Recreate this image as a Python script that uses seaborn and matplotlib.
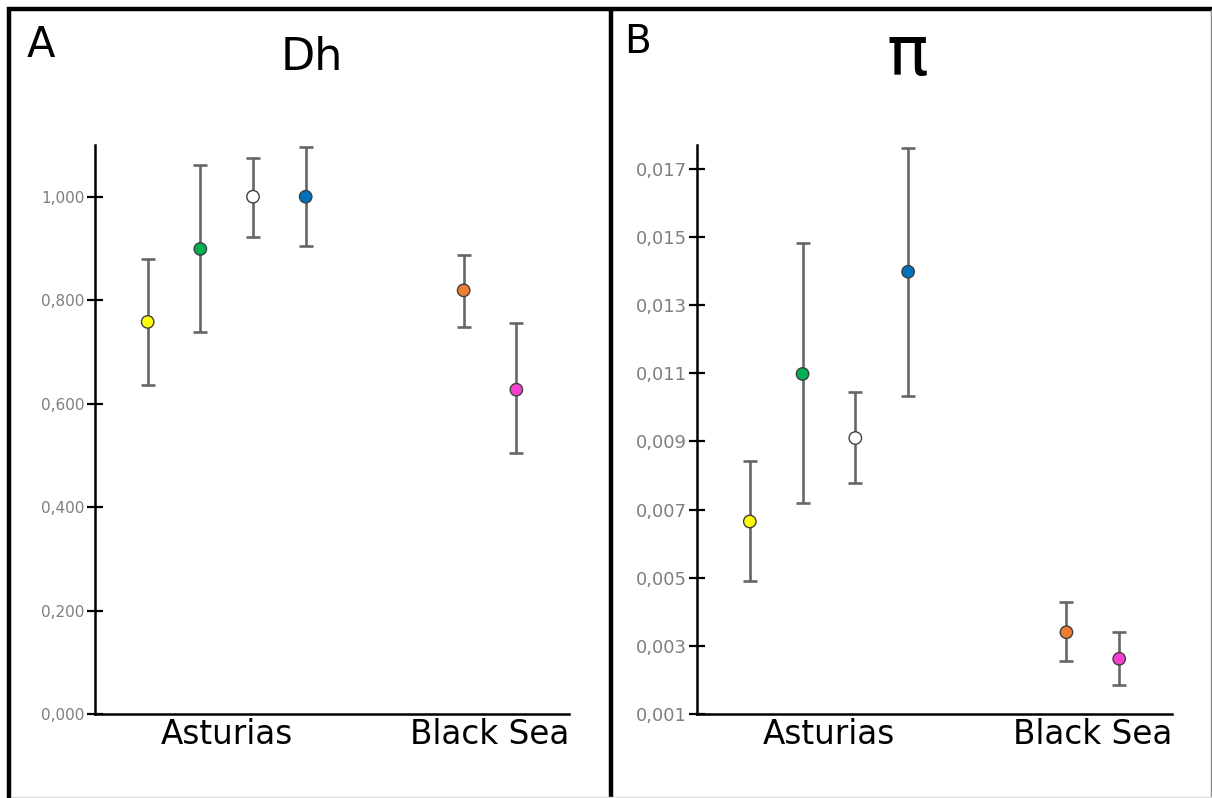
import numpy as np
import pandas as pd
import matplotlib
matplotlib.use("Agg")
import matplotlib.pyplot as plt
from matplotlib.lines import Line2D
from matplotlib.ticker import FuncFormatter
import seaborn as sns

# Positions of the six populations along the axis (Excel-style gap between regions)
groups = ["Ast1", "Ast2", "Ast3", "Ast4", "BS1", "BS2"]
xpos = [1, 2, 3, 4, 7, 8]
colors = ["#FFFF00", "#00B050", "#FFFFFF", "#0070C0", "#ED7D31", "#F53FCF"]
regions = ["Asturias", "Black Sea"]
region_pos = [2.5, 7.5]

# Panel A: haplotype diversity (Dh)
dh_mean = [0.758, 0.899, 1.000, 1.000, 0.819, 0.627]
dh_low = [0.636, 0.739, 0.923, 0.905, 0.749, 0.504]
dh_high = [0.880, 1.062, 1.075, 1.097, 0.888, 0.755]

# Panel B: nucleotide diversity (pi)
pi_mean = [0.00665, 0.01098, 0.00910, 0.01398, 0.00340, 0.00262]
pi_low = [0.00490, 0.00719, 0.00778, 0.01034, 0.00255, 0.00184]
pi_high = [0.00842, 0.01482, 0.01046, 0.01762, 0.00428, 0.00341]

sns.set_theme(style="white")
plt.rcParams["font.family"] = ["DejaVu Sans"]

fig = plt.figure(figsize=(12.12, 7.98), dpi=100)
W, H = 1212, 798


def px_rect(x0, x1, y_top, y_bot):
    return [x0 / W, 1 - y_bot / H, (x1 - x0) / W, (y_bot - y_top) / H]


def draw_panel(ax, mean, low, high, ylim, ticks, fmt, tick_size):
    df = pd.DataFrame({"x": xpos, "y": mean, "group": groups})
    yerr = [np.array(mean) - np.array(low), np.array(high) - np.array(mean)]
    ax.errorbar(df["x"], df["y"], yerr=yerr, fmt="none", ecolor="#666666",
                elinewidth=1.9, capsize=5, capthick=1.9, zorder=2)
    sns.scatterplot(data=df, x="x", y="y", hue="group", palette=colors,
                    s=80, edgecolor="#3f3f3f", linewidth=1.0, legend=False,
                    ax=ax, zorder=3)
    ax.set_xlim(0, 9)
    ax.set_ylim(*ylim)
    ax.set_yticks(ticks)
    ax.yaxis.set_major_formatter(FuncFormatter(lambda v, p: fmt.format(v).replace(".", ",")))
    ax.set_xticks(region_pos)
    ax.set_xticklabels(regions, fontsize=23.5, color="black")
    ax.tick_params(axis="x", bottom=False, length=0, pad=3)
    ax.tick_params(axis="y", left=True, direction="inout", length=11, width=1.6,
                   colors="black", labelcolor="#7f7f7f", labelsize=tick_size, pad=2)
    ax.set_xlabel("")
    ax.set_ylabel("")
    for side in ["top", "right"]:
        ax.spines[side].set_visible(False)
    for side in ["left", "bottom"]:
        ax.spines[side].set_color("black")
        ax.spines[side].set_linewidth(1.8)


ax1 = fig.add_axes(px_rect(95, 569, 145, 714))
draw_panel(ax1, dh_mean, dh_low, dh_high, (0, 1.1),
           np.arange(0, 1.01, 0.2), "{:.3f}", 11)

ax2 = fig.add_axes(px_rect(697, 1172, 145, 714))
draw_panel(ax2, pi_mean, pi_low, pi_high, (0.001, 0.0177),
           np.arange(0.001, 0.0171, 0.002), "{:.3f}", 13)

# Panel letters and titles
fig.text(27 / W, 1 - 57 / H, "A", fontsize=30, color="black")
fig.text(312 / W, 1 - 70 / H, "Dh", fontsize=32, color="black", ha="center")
fig.text(624 / W, 1 - 53 / H, "B", fontsize=28, color="black")
fig.text(907 / W, 1 - 75 / H, "π", fontsize=50, color="black", ha="center")

# Panel frames
frame = dict(color="black", linewidth=3.2, solid_capstyle="butt",
             transform=fig.transFigure)
fig.add_artist(Line2D([9 / W, 9 / W], [0, 1 - 7 / H], **frame))
fig.add_artist(Line2D([611 / W, 611 / W], [0, 1 - 7 / H], **frame))
fig.add_artist(Line2D([7 / W, 1], [1 - 9 / H, 1 - 9 / H], **frame))
thin = dict(color="#888888", linewidth=1.0, transform=fig.transFigure)
fig.add_artist(Line2D([1 - 0.6 / W, 1 - 0.6 / W], [0, 1 - 10 / H], **thin))
fig.add_artist(Line2D([12 / W, 1], [0.6 / H, 0.6 / H], color="#dddddd",
                      linewidth=1.0, transform=fig.transFigure))

fig.savefig("out.png", dpi=100)
